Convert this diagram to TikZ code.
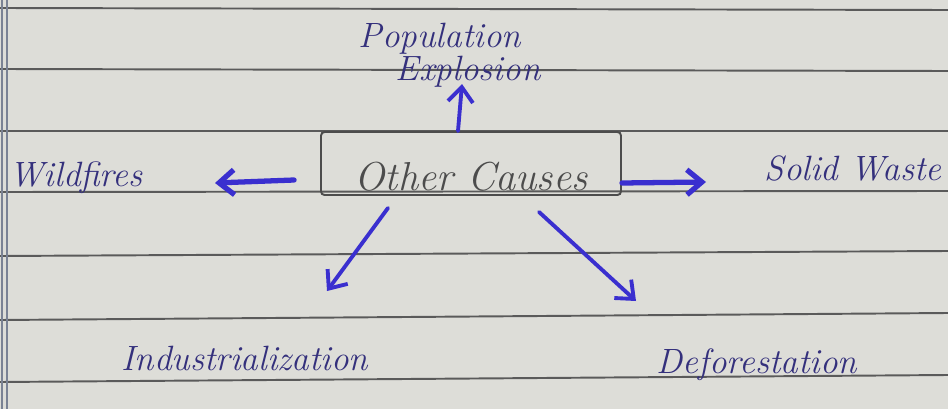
\documentclass[tikz,border=0pt]{standalone}
\usetikzlibrary{arrows.meta}
\definecolor{paper}{HTML}{DDDDD8}
\definecolor{ruling}{HTML}{5A5A5A}
\definecolor{margin}{HTML}{7A8294}
\definecolor{pen}{HTML}{3A2FCF}
\definecolor{penink}{HTML}{34307C}
\definecolor{pencil}{HTML}{4C4C4C}
\tikzset{
  cause/.style={text=penink, font=\itshape\fontsize{20}{17}\selectfont, inner sep=0pt, align=center},
  mainbox/.style={draw=pencil, line width=1.1pt, rounded corners=2pt, text=pencil, font=\itshape\fontsize{23}{24}\selectfont, minimum width=6cm, inner ysep=0.06cm, text height=1.1cm, text depth=0.04cm},
  arrow/.style={-{Straight Barb[length=3mm,width=5mm]}, line width=2.2pt, draw=pen, line cap=round},
  heavy/.style={arrow, line width=3pt}
}

\begin{document}
\begin{tikzpicture}[x=0.02cm, y=-0.02cm]
  % ruled paper
  \fill[paper] (0,0) rectangle (948,409);
  \useasboundingbox (0,0) rectangle (948,409);
  \foreach \l/\r in {8/10, 69/71, 131/131, 192/191, 256/251, 320/313, 382/375}
    \draw[ruling, line width=1.1pt] (0,\l) -- (948,\r);
  \draw[margin, line width=0.8pt] (2,0) -- (2,409);
  \draw[margin, line width=0.8pt] (7,0) -- (7,409);

  \node[mainbox, anchor=base] (other) at (471,190) {Other Causes};

  \node[cause, anchor=north] (population) at (440,23) {Population\\\hspace*{1.6em}Explosion};
  \node[cause, anchor=base] (wildfires) at (76,186) {Wildfires};
  \node[cause, anchor=base] (solid) at (853,180) {Solid Waste};
  \node[cause, anchor=base] (industry) at (245,370) {Industrialization};
  \node[cause, anchor=base] (forest) at (757,373) {Deforestation};

  \coordinate (population-tip) at (462,84);
  \coordinate (wildfires-tip) at (215,183);
  \coordinate (solid-tip) at (706,182);
  \coordinate (industry-tip) at (327,291);
  \coordinate (forest-tip) at (636,301);

  \draw[arrow] ([xshift=-0.26cm]other.north) -- (population-tip);
  \draw[heavy] ([xshift=-0.52cm, yshift=-0.33cm]other.west) -- (wildfires-tip);
  \draw[heavy] ([yshift=-0.39cm]other.east) -- (solid-tip);
  \draw[arrow] ([xshift=-1.66cm, yshift=-0.24cm]other.south) -- (industry-tip);
  \draw[arrow] ([xshift=1.36cm, yshift=-0.32cm]other.south) -- (forest-tip);
\end{tikzpicture}
\end{document}
